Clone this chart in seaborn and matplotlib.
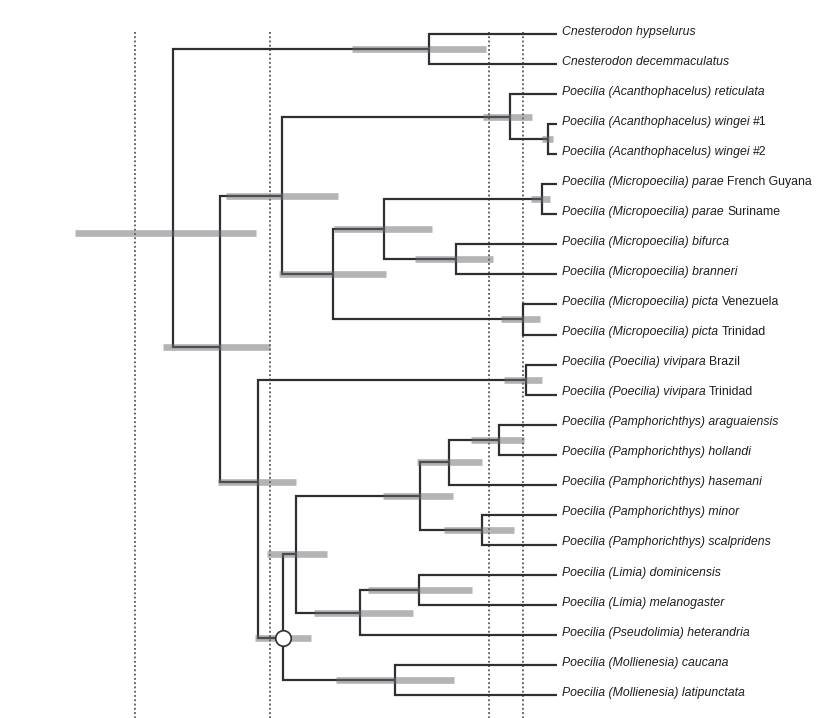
import matplotlib
matplotlib.use("Agg")
import pandas as pd
import matplotlib.pyplot as plt
import seaborn as sns

# Tip labels: italic part + upright part (locality / specimen)
tip_italic = [
    "Cnesterodon hypselurus",
    "Cnesterodon decemmaculatus",
    "Poecilia (Acanthophacelus) reticulata",
    "Poecilia (Acanthophacelus) wingei",
    "Poecilia (Acanthophacelus) wingei",
    "Poecilia (Micropoecilia) parae",
    "Poecilia (Micropoecilia) parae",
    "Poecilia (Micropoecilia) bifurca",
    "Poecilia (Micropoecilia) branneri",
    "Poecilia (Micropoecilia) picta",
    "Poecilia (Micropoecilia) picta",
    "Poecilia (Poecilia) vivipara",
    "Poecilia (Poecilia) vivipara",
    "Poecilia (Pamphorichthys) araguaiensis",
    "Poecilia (Pamphorichthys) hollandi",
    "Poecilia (Pamphorichthys) hasemani",
    "Poecilia (Pamphorichthys) minor",
    "Poecilia (Pamphorichthys) scalpridens",
    "Poecilia (Limia) dominicensis",
    "Poecilia (Limia) melanogaster",
    "Poecilia (Pseudolimia) heterandria",
    "Poecilia (Mollienesia) caucana",
    "Poecilia (Mollienesia) latipunctata",
]
tip_plain = ["", "", "", "#1", "#2", "French Guyana", "Suriname", "", "",
             "Venezuela", "Trinidad", "Brazil", "Trinidad", "", "", "", "",
             "", "", "", "", "", ""]

# Internal nodes (children: int = tip index, str = node name)
node_names = ["root", "cnest", "poec", "upper", "acanth", "wingei", "micro",
              "parbb", "parae", "bifbran", "picta", "lower", "viv", "crown",
              "pamlim", "pamph", "ahh", "ah", "ms", "limps", "limia", "moll"]
node_children = [
    ("cnest", "poec"), (0, 1), ("upper", "lower"), ("acanth", "micro"),
    (2, "wingei"), (3, 4), ("parbb", "picta"), ("parae", "bifbran"),
    (5, 6), (7, 8), (9, 10), ("viv", "crown"), (11, 12), ("pamlim", "moll"),
    ("pamph", "limps"), ("ahh", "ms"), ("ah", 15), (13, 14), (16, 17),
    ("limia", 20), (18, 19), (21, 22),
]
node_age = [38.4, 12.8, 33.7, 27.5, 4.7, 0.9, 22.4, 17.3, 1.5, 10.1, 3.4,
            29.9, 3.1, 27.4, 26.1, 13.7, 10.8, 5.8, 7.5, 19.7, 13.8, 16.2]
hpd_lo = [30.1, 7.1, 28.7, 21.9, 2.5, 0.4, 17.1, 12.5, 0.7, 6.4, 1.7,
          26.1, 1.5, 24.6, 23.0, 10.4, 7.5, 3.3, 4.3, 14.4, 8.5, 10.3]
hpd_hi = [48.2, 20.5, 39.4, 33.1, 7.4, 1.5, 27.8, 22.3, 2.6, 14.2, 5.6,
          33.9, 5.3, 30.2, 29.0, 17.4, 14.0, 8.6, 11.3, 24.3, 18.9, 22.1]
node_row_override = {"root": 6.62, "poec": 10.42, "lower": 14.91, "crown": 20.1}
marked_node = "crown"
ref_ages = [42.2, 28.7, 6.8, 3.4]

line_col = "#2f2f33"

age_of = dict(zip(node_names, node_age))
kids_of = dict(zip(node_names, node_children))
row_of = {}


def get_row(n):
    if isinstance(n, int):
        return float(n)
    if n not in row_of:
        rows = [get_row(c) for c in kids_of[n]]
        row_of[n] = node_row_override.get(n, sum(rows) / len(rows))
    return row_of[n]


def get_age(n):
    return 0.0 if isinstance(n, int) else age_of[n]


# elbow segments parent -> child
edges = []
eid = 0
for n in node_names:
    pa, pr = get_age(n), get_row(n)
    for c in kids_of[n]:
        cr = get_row(c)
        for k, (a, r) in enumerate([(pa, pr), (pa, cr), (get_age(c), cr)]):
            edges.append({"edge": eid, "k": k, "age": a, "row": r})
        eid += 1
edges = pd.DataFrame(edges)

bars = []
for n, lo, hi in zip(node_names, hpd_lo, hpd_hi):
    r = get_row(n)
    bars.append({"node": n, "age": hi, "row": r})
    bars.append({"node": n, "age": lo, "row": r})
bars = pd.DataFrame(bars)

sns.set_theme(style="white")
plt.rcParams["font.family"] = ["Liberation Sans", "DejaVu Sans"]

fig = plt.figure(figsize=(8.17, 7.18), dpi=100)
ax = fig.add_axes([0, 0, 1, 1])

ax.vlines(ref_ages, -0.05, 23.5, colors="#3a3a3a", linestyles=(0, (1.2, 1.6)),
          linewidth=1.1, zorder=1)

sns.lineplot(data=edges, x="age", y="row", units="edge", estimator=None,
             sort=False, color=line_col, linewidth=1.6, legend=False,
             solid_joinstyle="miter", solid_capstyle="butt", zorder=2, ax=ax)
sns.lineplot(data=bars, x="age", y="row", units="node", estimator=None,
             sort=False, color="#6a6a70", alpha=0.5, linewidth=4.8,
             legend=False, solid_capstyle="butt", zorder=3, ax=ax)

ax.scatter([age_of[marked_node]], [get_row(marked_node)], s=125,
           facecolor="white", edgecolor=line_col, linewidth=1.2, zorder=5)

for i, (it, pl) in enumerate(zip(tip_italic, tip_plain)):
    t = ax.text(-0.5, i - 0.08, it, style="italic", fontsize=8.8,
                color="#1e1e1e", ha="left", va="center")
    if pl:
        ax.annotate(pl, xy=(1, 0), xycoords=t, xytext=(2.4, 0),
                    textcoords="offset points", fontsize=8.8,
                    color="#1e1e1e", ha="left", va="bottom")

ax.set_xlim(55.7, -26.0)
ax.set_ylim(22.76, -1.131)
ax.axis("off")

fig.savefig("out.png", dpi=100)
